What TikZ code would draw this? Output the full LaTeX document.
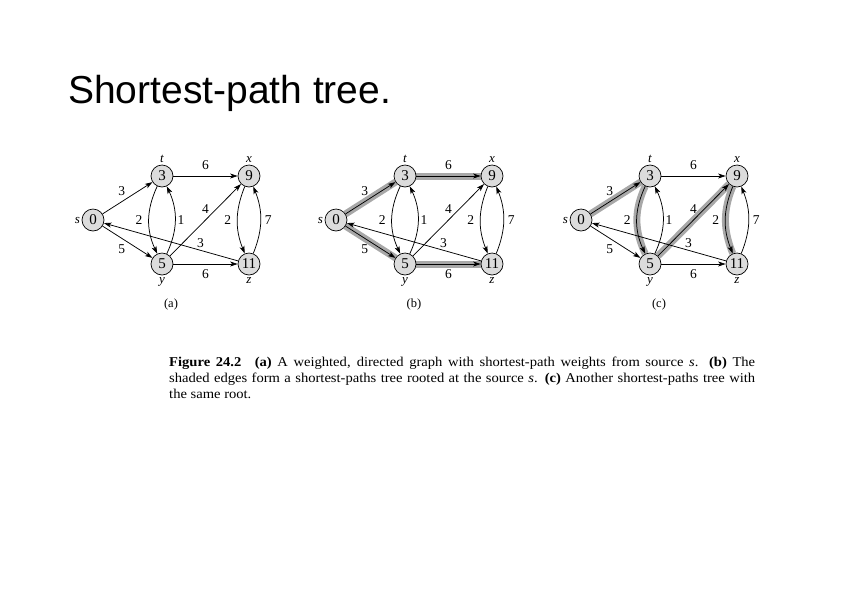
\documentclass[tikz,border=0pt]{standalone}
\usepackage{fontspec}
\setmainfont{Liberation Serif}
\newfontfamily\titlefont{Liberation Sans}
\newfontfamily\capfont[FakeStretch=1.08]{Liberation Serif}
\usetikzlibrary{positioning, arrows.meta}
\pgfdeclarelayer{bg}
\pgfsetlayers{bg,main}
\tikzset{
	vertex/.style = {circle, draw, line width=0.7pt, fill=xgray, minimum size=22pt, inner sep=0pt, font=\fontsize{15}{15}\selectfont},
	edge/.style = {-{Stealth[length=7.5pt, width=5pt, inset=2pt]}, line width=0.75pt},
	weight/.style = {font=\fontsize{13.5}{13.5}\selectfont, inner sep=1pt},
	tree/.style = {line width=7pt, xshade},
	vname/.style = {inner sep=1.5pt, font=\fontsize{13}{13}\selectfont\itshape},
}
\definecolor{xgray}{HTML}{DCDCDC}
\definecolor{xshade}{HTML}{A8A8A8}

\begin{document}
\begin{tikzpicture}[x=1pt, y=-1pt]
	\useasboundingbox (0,0) rectangle (842,595);
	\node[anchor=base west, inner sep=0pt, font=\titlefont\fontsize{39}{39}\selectfont] (title) at (68,103) {Shortest-path tree.};
	\foreach \p/\dx in {a/0, b/243, c/488} {
		\begin{scope}[shift={(\dx,0)}]
			\node[vertex, label={[vname]left:s}]  (s\p) at (93,220)  {0};
			\node[vertex, label={[vname]above:t}] (t\p) at (162,176) {3};
			\node[vertex, label={[vname]above:x}] (x\p) at (249,176) {9};
			\node[vertex, label={[vname]below:y}] (y\p) at (162,264) {5};
			\node[vertex, label={[vname]below:z}] (z\p) at (249,264) {11};
			\draw[edge] (s\p) -- node[weight, above left=1.5pt] {3} (t\p);
			\draw[edge] (s\p) -- node[weight, below left=1.5pt] {5} (y\p);
			\draw[edge] (t\p) -- node[weight, above=5pt] {6} (x\p);
			\draw[edge] (t\p) to[bend right=25] node[weight, left=5pt] {2} (y\p);
			\draw[edge] (y\p) to[bend right=25] node[weight, right=1pt] {1} (t\p);
			\draw[edge] (y\p) -- node[weight, above=5pt] {4} (x\p);
			\draw[edge] (y\p) -- node[weight, below=4pt] {6} (z\p);
			\draw[edge] (x\p) to[bend right=22] node[weight, left=5pt] {2} (z\p);
			\draw[edge] (z\p) to[bend right=22] node[weight, right=3pt] {7} (x\p);
			\draw[edge] (z\p) -- node[weight, pos=0.28, above=1.5pt] {3} (s\p);
			\node[font=\fontsize{12.5}{12.5}\selectfont] (cap\p) at (171,304) {(\p)};
		\end{scope}
	}
	% shaded tree edges
	\begin{pgfonlayer}{bg}
		\draw[tree] (sb) -- (tb);
		\draw[tree] (sb) -- (yb);
		\draw[tree] (tb) -- (xb);
		\draw[tree] (yb) -- (zb);
		\draw[tree] (sc) -- (tc);
		\draw[tree] (tc) to[bend right=25] (yc);
		\draw[tree] (yc) -- (xc);
		\draw[tree] (xc) to[bend right=22] (zc);
	\end{pgfonlayer}
	\node[anchor=base west, inner sep=0pt, font=\capfont\fontsize{13.5}{13.5}\selectfont] (line1) at (169,366)
		{\makebox[586pt][s]{\textbf{Figure 24.2}\quad \textbf{(a)} A weighted, directed graph with shortest-path weights from source \textit{s}. \textbf{(b)} The}};
	\node[anchor=base west, inner sep=0pt, font=\capfont\fontsize{13.5}{13.5}\selectfont] (line2) at (169,382)
		{\makebox[586pt][s]{shaded edges form a shortest-paths tree rooted at the source \textit{s}. \textbf{(c)} Another shortest-paths tree with}};
	\node[anchor=base west, inner sep=0pt, font=\capfont\fontsize{13.5}{13.5}\selectfont] (line3) at (169,398)
		{the same root.};
\end{tikzpicture}
\end{document}
